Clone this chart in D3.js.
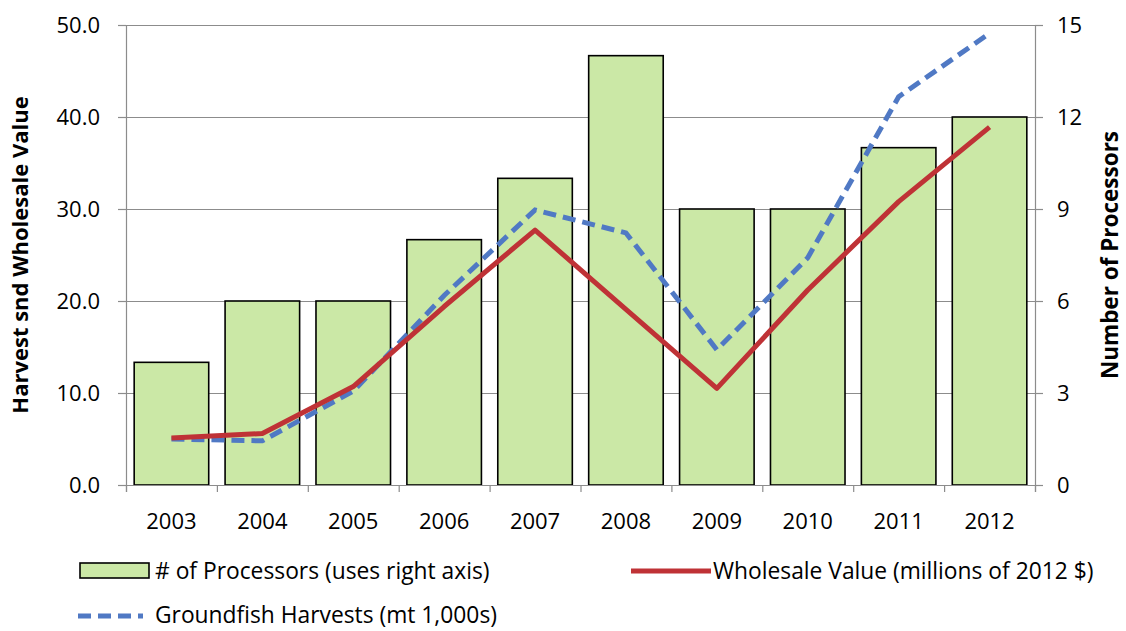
<!DOCTYPE html>
<html>
<head>
<meta charset="utf-8">
<script src="https://cdn.jsdelivr.net/npm/d3@7"></script>
<style>
  body { margin: 0; background: #fff; }
  svg { font-family: "Open Sans", "Noto Sans", sans-serif; }
</style>
</head>
<body>
<div id="chart"></div>
<script>
// Data
const years = ["2003", "2004", "2005", "2006", "2007", "2008", "2009", "2010", "2011", "2012"];
const processors = [4, 6, 6, 8, 10, 14, 9, 9, 11, 12];
const wholesale = [5.1, 5.6, 10.7, 19.4, 27.7, 19.1, 10.5, 21.2, 30.8, 38.9];
const harvests = [5.0, 4.8, 10.2, 20.6, 29.9, 27.4, 14.7, 24.7, 42.2, 49.1];
const leftTicks = [0, 10, 20, 30, 40, 50];
const rightTicks = [0, 3, 6, 9, 12, 15];

const width = 1126, height = 631;
const margin = { top: 25, right: 91, bottom: 146, left: 126 };

const svg = d3.select("#chart").append("svg")
    .attr("width", width)
    .attr("height", height);

const x = d3.scaleBand()
    .domain(years)
    .range([margin.left, width - margin.right])
    .paddingInner(0.18)
    .paddingOuter(0.09);

const yLeft = d3.scaleLinear().domain([0, 50]).range([height - margin.bottom, margin.top]);
const yRight = d3.scaleLinear().domain([0, 15]).range([height - margin.bottom, margin.top]);

// gridlines
svg.append("g")
    .selectAll("line")
    .data(leftTicks)
    .join("line")
    .attr("x1", margin.left)
    .attr("x2", width - margin.right)
    .attr("y1", d => yLeft(d) + 0.5)
    .attr("y2", d => yLeft(d) + 0.5)
    .attr("stroke", "#8c8c8c")
    .attr("stroke-width", 1.2);

// bars
svg.append("g")
    .selectAll("rect")
    .data(processors)
    .join("rect")
    .attr("x", (d, i) => x(years[i]))
    .attr("y", d => yRight(d))
    .attr("width", x.bandwidth())
    .attr("height", d => yRight(0) - yRight(d))
    .attr("fill", "#cbe8a6")
    .attr("stroke", "#000")
    .attr("stroke-width", 1.6);

// axes
const fontSize = "22px";
const leftAxis = svg.append("g")
    .attr("transform", `translate(${margin.left},0)`)
    .call(d3.axisLeft(yLeft).tickValues(leftTicks).tickFormat(d3.format(".1f")).tickSize(8).tickPadding(18));
const rightAxis = svg.append("g")
    .attr("transform", `translate(${width - margin.right},0)`)
    .call(d3.axisRight(yRight).tickValues(rightTicks).tickSize(8).tickPadding(14));
const xBand = d3.scaleLinear().domain([0, years.length]).range([margin.left, width - margin.right]);
const bottomAxis = svg.append("g")
    .attr("transform", `translate(0,${height - margin.bottom})`)
    .call(d3.axisBottom(xBand).tickValues(d3.range(0, years.length + 1)).tickSize(7).tickFormat(""));

[leftAxis, rightAxis, bottomAxis].forEach(a => {
    a.select(".domain").attr("stroke", "#8c8c8c").attr("stroke-width", 1.2);
    a.selectAll(".tick line").attr("stroke", "#8c8c8c").attr("stroke-width", 1.2);
    a.selectAll("text").attr("font-size", fontSize).attr("fill", "#000")
        .attr("font-family", "'Open Sans', sans-serif");
});

svg.append("g")
    .selectAll("text")
    .data(years)
    .join("text")
    .attr("x", d => x(d) + x.bandwidth() / 2)
    .attr("y", height - margin.bottom + 44)
    .attr("text-anchor", "middle")
    .attr("font-size", fontSize)
    .text(d => d);

// lines
const line = data => d3.line()
    .x((d, i) => x(years[i]) + x.bandwidth() / 2)
    .y(d => yLeft(d))(data);

svg.append("path")
    .attr("d", line(harvests))
    .attr("fill", "none")
    .attr("stroke", "#5079c4")
    .attr("stroke-width", 5)
    .attr("stroke-dasharray", "13,7");

svg.append("path")
    .attr("d", line(wholesale))
    .attr("fill", "none")
    .attr("stroke", "#bf3236")
    .attr("stroke-width", 5)
    .attr("stroke-linejoin", "round");

// axis titles
svg.append("text")
    .attr("transform", `translate(28,${(margin.top + height - margin.bottom) / 2}) rotate(-90)`)
    .attr("text-anchor", "middle")
    .attr("font-size", "22px")
    .attr("font-weight", "bold")
    .text("Harvest snd Wholesale Value");

svg.append("text")
    .attr("transform", `translate(1118,${(margin.top + height - margin.bottom) / 2}) rotate(-90)`)
    .attr("text-anchor", "middle")
    .attr("font-size", "22.5px")
    .attr("font-weight", "bold")
    .text("Number of Processors");

// legend
const legend = svg.append("g").attr("font-size", "22.8px");
legend.append("rect")
    .attr("x", 80).attr("y", 563).attr("width", 69).attr("height", 15)
    .attr("fill", "#cbe8a6").attr("stroke", "#000").attr("stroke-width", 1.6);
legend.append("text").attr("x", 155).attr("y", 579).text("# of Processors (uses right axis)");

legend.append("line")
    .attr("x1", 631).attr("x2", 711).attr("y1", 571).attr("y2", 571)
    .attr("stroke", "#bf3236").attr("stroke-width", 5);
legend.append("text").attr("x", 713).attr("y", 579).text("Wholesale Value (millions of 2012 $)");

legend.append("line")
    .attr("x1", 78).attr("x2", 143).attr("y1", 616).attr("y2", 616)
    .attr("stroke", "#5079c4").attr("stroke-width", 5).attr("stroke-dasharray", "13,7");
legend.append("text").attr("x", 155).attr("y", 623).text("Groundfish Harvests (mt 1,000s)");
</script>
</body>
</html>
